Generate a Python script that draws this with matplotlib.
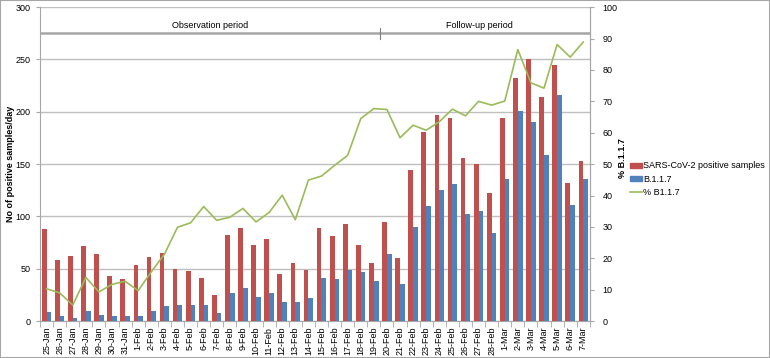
import numpy as np
import matplotlib
matplotlib.use("Agg")
import matplotlib.pyplot as plt
from matplotlib.patches import Rectangle

plt.rcParams['font.family'] = ['Liberation Sans', 'DejaVu Sans']

dates = ["25-Jan", "26-Jan", "27-Jan", "28-Jan", "29-Jan", "30-Jan", "31-Jan",
         "1-Feb", "2-Feb", "3-Feb", "4-Feb", "5-Feb", "6-Feb", "7-Feb", "8-Feb",
         "9-Feb", "10-Feb", "11-Feb", "12-Feb", "13-Feb", "14-Feb", "15-Feb",
         "16-Feb", "17-Feb", "18-Feb", "19-Feb", "20-Feb", "21-Feb", "22-Feb",
         "23-Feb", "24-Feb", "25-Feb", "26-Feb", "27-Feb", "28-Feb",
         "1-Mar", "2-Mar", "3-Mar", "4-Mar", "5-Mar", "6-Mar", "7-Mar"]

positive = [88, 58, 62, 72, 64, 43, 40, 54, 61, 65, 50, 48, 41, 25, 82,
            89, 73, 78, 45, 56, 49, 89, 81, 93, 73, 56, 95, 60, 144,
            181, 197, 194, 156, 150, 122, 194, 232, 250, 214, 245, 132, 153]

b117 = [9, 5, 3, 10, 6, 5, 5, 5, 10, 14, 15, 15, 15, 8, 27,
        32, 23, 27, 18, 18, 22, 41, 40, 49, 47, 38, 64, 35, 90,
        110, 125, 131, 102, 105, 84, 136, 201, 190, 159, 216, 111, 136]

pct = [10.3, 9.0, 5.1, 13.9, 9.3, 11.7, 12.7, 9.7, 15.7, 21.3, 29.9, 31.3,
       36.5, 32.1, 33.1, 35.9, 31.6, 34.6, 40.1, 32.3, 44.9, 46.2, 49.6, 52.8,
       64.5, 67.7, 67.4, 58.4, 62.4, 60.8, 63.5, 67.5, 65.4, 70.0, 68.8,
       70.1, 86.5, 75.9, 74.2, 88.1, 84.1, 88.9]

periods = ["Observation period", "Follow-up period"]
split = 25.5  # boundary between 19-Feb and 20-Feb

red = '#C0504D'
blue = '#4F81BD'
green = '#9BBB59'
grid = '#BFBFBF'
fs = 6.5

x = np.arange(len(dates))
w = 0.36

fig = plt.figure(figsize=(7.7, 3.58), dpi=100)
ax = fig.add_axes([0.052, 0.103, 0.714, 0.877])
ax2 = ax.twinx()

ax.bar(x - w / 2, positive, w, color=red, zorder=3)
ax.bar(x + w / 2, b117, w, color=blue, zorder=3)
ax2.plot(x, pct, color=green, lw=1.2, zorder=4)

ax.set_xlim(-0.5, len(dates) - 0.5)
ax.set_ylim(0, 300)
ax2.set_ylim(0, 100)
ax.set_yticks(range(0, 301, 50))
ax2.set_yticks(range(0, 101, 10))
ax.yaxis.grid(True, color=grid, lw=1, zorder=0)
ax.set_axisbelow(True)

# period band
ax.axhline(275, color='#A6A6A6', lw=1.8, zorder=2)
ax.plot([split, split], [270, 280], color='#7F7F7F', lw=0.8, zorder=2)
ax.text((-0.5 + split) / 2, 282, periods[0], ha='center', va='center', fontsize=fs)
ax.text((split + len(dates) - 0.5) / 2 - 0.4, 282, periods[1], ha='center', va='center', fontsize=fs)

ax.set_xticks(x)
ax.set_xticklabels(dates, rotation=90, fontsize=fs)
ax.set_xticks(np.arange(-0.5, len(dates), 1), minor=True)
ax.tick_params(axis='x', which='major', length=0, pad=4)
ax.tick_params(axis='x', which='minor', length=4, color='#A6A6A6')
ax.tick_params(axis='y', labelsize=fs, length=3, color='#A6A6A6', pad=4)
ax2.tick_params(axis='y', labelsize=fs, length=3, color='#A6A6A6', pad=6)

for a in (ax, ax2):
    for s in a.spines.values():
        s.set_color('#A6A6A6')
    a.spines['top'].set_visible(False)
ax2.spines['left'].set_visible(False)
ax2.spines['bottom'].set_visible(False)

ax.set_ylabel("No of positive samples/day", fontsize=fs, fontweight='bold')
ax.yaxis.set_label_coords(-0.046, 0.5)
ax2.set_ylabel("% B.1.1.7", fontsize=fs, fontweight='bold')
ax2.yaxis.set_label_coords(1.051, 0.52)

handles = [Rectangle((0, 0), 1, 1, color=red),
           Rectangle((0, 0), 1, 1, color=blue),
           plt.Line2D([0], [0], color=green, lw=1.2)]
labels = ["SARS-CoV-2 positive samples", "B.1.1.7", "% B1.1.7"]
fig.legend(handles, labels, loc='center left', bbox_to_anchor=(0.818, 0.5),
           frameon=False, fontsize=fs, handlelength=1.3, handleheight=0.5,
           handletextpad=0.2, labelspacing=0.45, borderaxespad=0, borderpad=0)

fig.patches.append(Rectangle((0, 0), 1, 1, transform=fig.transFigure,
                             fill=False, edgecolor='#A6A6A6', lw=1.5))

fig.savefig("out.png", dpi=100)
